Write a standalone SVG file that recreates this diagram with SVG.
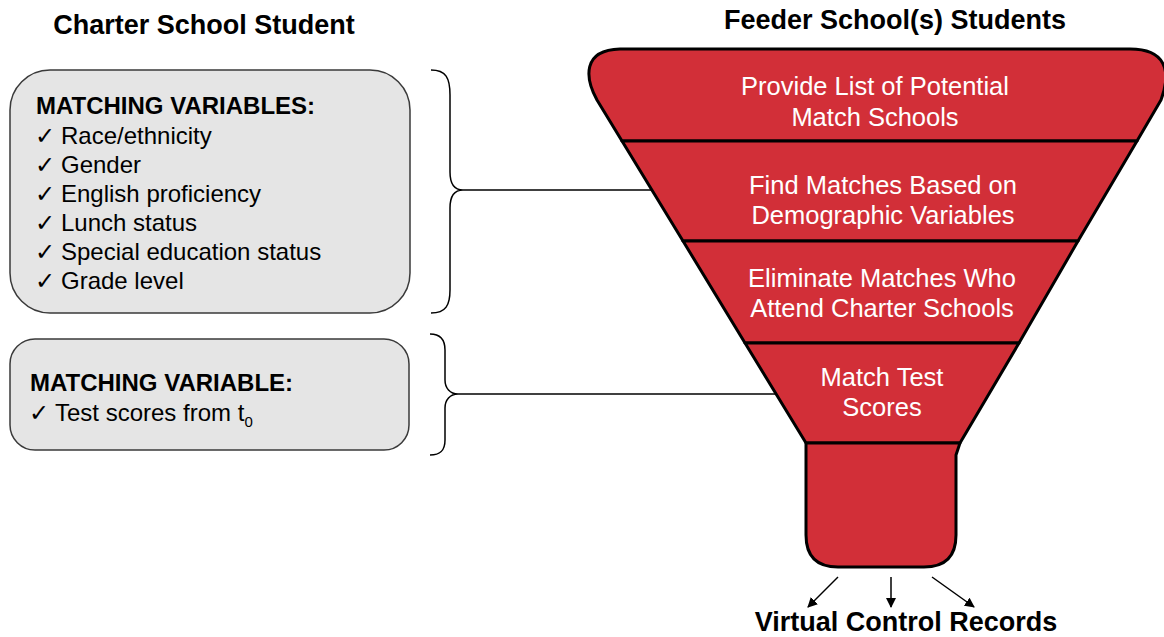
<svg xmlns="http://www.w3.org/2000/svg" width="1164" height="637" viewBox="0 0 1164 637">
<defs>
<style>
.title{font-family:"Liberation Sans",Arial,sans-serif;font-weight:bold;font-size:27px;fill:#000}
.box{fill:#e5e5e5;stroke:#3a3a3a;stroke-width:1.5}
.head{font-family:"Liberation Sans",Arial,sans-serif;font-weight:bold;font-size:24px;fill:#000}
.item{font-family:"Liberation Sans",Arial,sans-serif;font-size:24px;fill:#000}
.chk{font-family:"DejaVu Sans",sans-serif;font-size:24px;fill:#000}
.band{fill:#d22f38;stroke:#000;stroke-width:3;stroke-linejoin:round}
.ftxt{font-family:"Liberation Sans",Arial,sans-serif;font-size:25.5px;fill:#fff;text-anchor:middle}
.conn{fill:none;stroke:#000;stroke-width:1.5}
</style>
<marker id="ah" viewBox="0 0 10 10" refX="9" refY="5" markerWidth="10" markerHeight="10" markerUnits="userSpaceOnUse" orient="auto">
<path d="M0,0 L10,5 L0,10 Z" fill="#000"/>
</marker>
</defs>

<text class="title" x="204" y="34" text-anchor="middle">Charter School Student</text>
<text class="title" x="895" y="29" text-anchor="middle">Feeder School(s) Students</text>

<g id="box-matching-variables">
<rect class="box" x="10" y="70" width="400" height="243" rx="40" ry="40"/>
<text class="head" x="36" y="114">MATCHING VARIABLES:</text>
<text class="chk" x="35" y="144">✓</text><text class="item" x="61" y="144">Race/ethnicity</text>
<text class="chk" x="35" y="173">✓</text><text class="item" x="61" y="173">Gender</text>
<text class="chk" x="35" y="202">✓</text><text class="item" x="61" y="202">English proficiency</text>
<text class="chk" x="35" y="231">✓</text><text class="item" x="61" y="231">Lunch status</text>
<text class="chk" x="35" y="260">✓</text><text class="item" x="61" y="260">Special education status</text>
<text class="chk" x="35" y="289">✓</text><text class="item" x="61" y="289">Grade level</text>
</g>

<g id="box-matching-variable">
<rect class="box" x="10" y="339" width="399" height="111" rx="25" ry="25"/>
<text class="head" x="30" y="391">MATCHING VARIABLE:</text>
<text class="chk" x="29" y="421">✓</text><text class="item" x="55" y="421">Test scores from t<tspan font-size="15" dy="6">0</tspan></text>
</g>

<g id="funnel-stage-1">
<path class="band" d="M597,100 C585,78 582,50 620,49 L1130,49 C1165,49 1172,70 1161,100 L1137,141 L622,141 Z"/>
<text class="ftxt" x="875" y="95">Provide List of Potential</text>
<text class="ftxt" x="875" y="126">Match Schools</text>
</g>
<g id="funnel-stage-2">
<path class="band" d="M622,141 L1137,141 L1078,241 L683,241 Z"/>
<text class="ftxt" x="883" y="194">Find Matches Based on</text>
<text class="ftxt" x="883" y="224">Demographic Variables</text>
</g>
<g id="funnel-stage-3">
<path class="band" d="M683,241 L1078,241 L1019,343 L745,343 Z"/>
<text class="ftxt" x="882" y="287">Eliminate Matches Who</text>
<text class="ftxt" x="882" y="317">Attend Charter Schools</text>
</g>
<g id="funnel-stage-4">
<path class="band" d="M745,343 L1019,343 L960,443 L806,443 Z"/>
<text class="ftxt" x="882" y="386">Match Test</text>
<text class="ftxt" x="882" y="416">Scores</text>
</g>
<g id="funnel-stem">
<path class="band" d="M806,443 L960,443 L956,455 L956,535 Q956,567 924,567 L838,567 Q806,567 806,535 Z"/>
</g>

<g id="output-label">
<text class="title" x="906" y="631" text-anchor="middle">Virtual Control Records</text>
</g>

<g id="connectors">
<path class="conn" d="M431,70 C446,70 450,78 450,95 L450,172 C450,184 455,190 463,190 C455,190 450,196 450,208 L450,290 C450,305 446,313 431,313"/>
<path class="conn" d="M463,190 L652,190"/>
<path class="conn" d="M430,334 C441,334 445,340 445,350 L445,380 C445,388 450,394 458,394 C450,394 445,400 445,408 L445,440 C445,450 441,455 430,455"/>
<path class="conn" d="M458,394 L777,394"/>
<path class="conn" d="M838,577 L808,607" marker-end="url(#ah)"/>
<path class="conn" d="M891,577 L891,607" marker-end="url(#ah)"/>
<path class="conn" d="M932,577 L974,607" marker-end="url(#ah)"/>
</g>
</svg>
